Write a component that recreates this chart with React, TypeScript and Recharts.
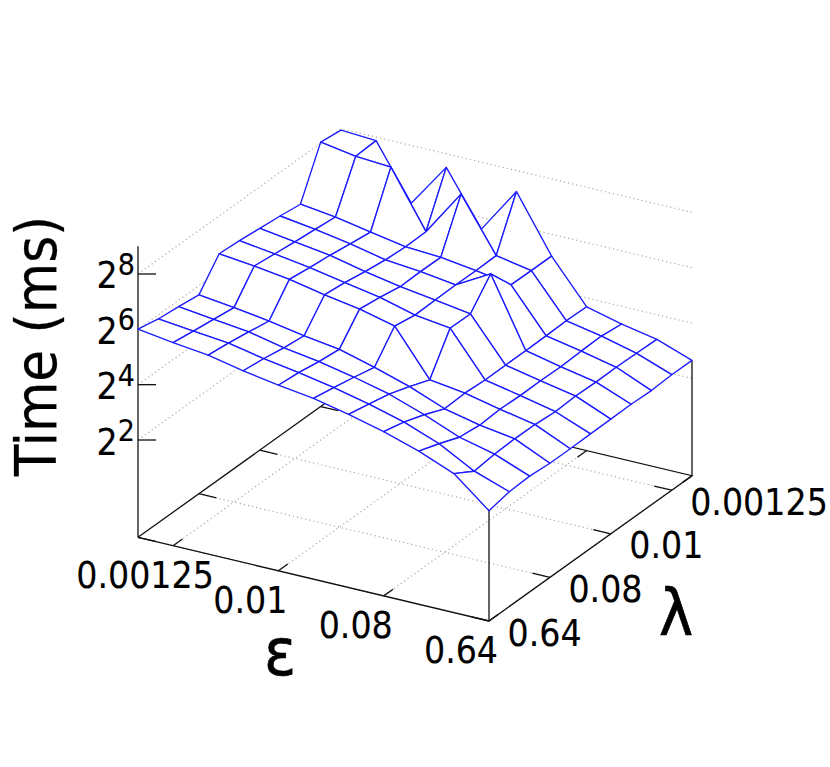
import { ScatterChart, Scatter, XAxis, YAxis } from "recharts"

const WIDTH = 830
const HEIGHT = 767
const FONT = "'DejaVu Sans Condensed', 'DejaVu Sans', sans-serif"

// log2 of time (ms), one row per epsilon step, lambda going 0.64 -> 0.000625
const timeEps0 = [6.01, 5.85, 5.77, 5.67, 6.63, 6.58, 6.50, 6.42, 6.32, 8.04, 7.95]
const timeEps1 = [5.82, 5.71, 5.61, 5.51, 6.49, 6.40, 6.31, 6.24, 6.16, 7.83, 7.87]
const timeEps2 = [5.67, 5.58, 5.46, 5.33, 6.31, 6.21, 6.13, 6.02, 5.92, 7.74, 5.91]
const timeEps3 = [5.41, 5.32, 5.19, 5.10, 6.05, 5.97, 5.84, 5.74, 5.69, 5.71, 7.51]
const timeEps4 = [5.19, 5.12, 4.99, 4.91, 5.84, 5.74, 5.60, 5.62, 5.61, 7.37, 5.58]
const timeEps5 = [5.02, 4.88, 4.73, 4.56, 5.53, 5.40, 5.42, 5.44, 5.43, 5.45, 7.24]
const timeEps6 = [4.74, 4.59, 4.42, 4.17, 3.89, 5.23, 5.22, 6.14, 5.22, 5.21, 5.21]
const timeEps7 = [4.42, 4.24, 3.98, 3.67, 3.71, 3.66, 3.67, 3.67, 3.68, 3.70, 3.68]
const timeEps8 = [4.02, 3.76, 3.47, 3.38, 3.43, 3.40, 3.41, 3.39, 3.43, 3.45, 3.36]
const timeEps9 = [3.51, 3.07, 3.16, 3.19, 3.18, 3.12, 3.16, 3.14, 3.15, 3.13, 3.11]
const timeEps10 = [2.47, 2.63, 2.67, 2.61, 2.61, 2.62, 2.63, 2.64, 2.61, 2.66, 2.65]
const surface = [timeEps0, timeEps1, timeEps2, timeEps3, timeEps4, timeEps5, timeEps6, timeEps7, timeEps8, timeEps9, timeEps10]

const epsilonTicks = ["0.00125", "0.01", "0.08", "0.64"]
const epsilonTickSteps = [1, 4, 7, 10]
const lambdaTicks = ["0.64", "0.08", "0.01", "0.00125"]
const lambdaTickSteps = [0, 3, 6, 9]
const timeTicks = [2, 4, 6, 8]

const Z_MIN = -1.516
const Z_MAX = 9
const LAST = 10

// gnuplot style view: grid step (i, j) and log2 time -> page position
const project = (i: number, j: number, z: number = Z_MIN) => ({
  x: 138 + 35.1 * i + 20.3 * j,
  y: 537.3 + 8.37 * i - 14.53 * j - (z - Z_MIN) * 27.67,
})

const noDot = () => <g />

const pathOf = (points: any[]) =>
  points.map((p, n) => `${n === 0 ? "M" : "L"}${p.x},${p.y}`).join("")

const lineShape = (stroke: string, strokeWidth: number, dash?: string) => (props: any) => (
  <path d={pathOf(props.points)} fill="none" stroke={stroke} strokeWidth={strokeWidth} strokeDasharray={dash} />
)

const cellShape = (props: any) => (
  <path d={pathOf(props.points) + "Z"} fill="#fff" stroke="#1c1cff" strokeWidth={1.35} strokeLinejoin="round" />
)

const dotted = lineShape("#a8a8a8", 1.2, "1.2 3")
const solid = lineShape("#111", 1.3)

const gridLines: any[][] = []
epsilonTickSteps.forEach((i) => gridLines.push([project(i, 0), project(i, LAST)]))
lambdaTickSteps.forEach((j) => gridLines.push([project(0, j), project(LAST, j)]))
timeTicks.forEach((z) => gridLines.push([project(0, 0, z), project(0, LAST, z), project(LAST, LAST, z)]))

const borderLines: any[][] = [
  [project(0, 0), project(LAST, 0), project(LAST, LAST), project(0, LAST), project(0, 0)],
  [project(0, 0), project(0, 0, Z_MAX)],
  [project(LAST, 0), project(LAST, 0, surface[LAST][0])],
  [project(LAST, LAST), project(LAST, LAST, surface[LAST][LAST])],
]
epsilonTickSteps.forEach((i) => {
  borderLines.push([project(i, 0), project(i, 0.46)])
  borderLines.push([project(i, LAST), project(i, LAST - 0.46)])
})
lambdaTickSteps.forEach((j) => {
  borderLines.push([project(0, j), project(0.5, j)])
  borderLines.push([project(LAST, j), project(LAST - 0.5, j)])
})
timeTicks.forEach((z) => {
  const p = project(0, 0, z)
  borderLines.push([p, { x: p.x + 18, y: p.y }])
})

// painted from the back corner to the front one so near cells hide far ones
const cells: any[][] = []
for (let i = 0; i < LAST; i++) {
  for (let j = LAST - 1; j >= 0; j--) {
    cells.push([
      project(i, j, surface[i][j]),
      project(i + 1, j, surface[i + 1][j]),
      project(i + 1, j + 1, surface[i + 1][j + 1]),
      project(i, j + 1, surface[i][j + 1]),
    ])
  }
}

const epsilonLabels = epsilonTicks.map((label, n) => {
  const p = project(epsilonTickSteps[n], 0)
  return { x: p.x - 28, y: p.y + 42, label }
})
const lambdaLabels = lambdaTicks.map((label, n) => {
  const p = project(LAST, lambdaTickSteps[n])
  return { x: p.x + 18.5, y: p.y + 24.5, label }
})
const timeLabels = timeTicks.map((exp) => {
  const p = project(0, 0, exp)
  return { x: 96.5, y: p.y + 14.5, label: String(exp) }
})

const tickLabel = (anchor: string) => (props: any) => (
  <text x={props.cx} y={props.cy} textAnchor={anchor} fontFamily={FONT} fontSize={37} fill="#000" stroke="#000" strokeWidth={0.12}>
    {props.payload.label}
  </text>
)

const powerLabel = (props: any) => (
  <text x={props.cx} y={props.cy} fontFamily={FONT} fontSize={37} fill="#000" stroke="#000" strokeWidth={0.12}>
    2<tspan dy={-13.5} fontSize={30}>{props.payload.label}</tspan>
  </text>
)

const bigLabel = (props: any) => (
  <text
    x={props.cx}
    y={props.cy}
    textAnchor="middle"
    fontFamily={FONT}
    fontSize={props.payload.size}
    fill="#000"
    stroke="#000"
    strokeWidth={props.payload.weight}
    transform={props.payload.turn ? `rotate(-90 ${props.cx} ${props.cy})` : undefined}
  >
    {props.payload.label}
  </text>
)

const axisTitles = [
  { x: 56, y: 346, label: "Time (ms)", size: 57.5, turn: true, weight: 0.25 },
  { x: 280, y: 675, label: "ε", size: 66, turn: false, weight: 0.7 },
  { x: 676, y: 635, label: "λ", size: 64, turn: false, weight: 0.7 },
]

export default function App() {
  return (
    <div style={{ position: "absolute", left: 0, top: 0, width: WIDTH, height: HEIGHT, background: "#fff" }}>
      <ScatterChart width={WIDTH} height={HEIGHT} margin={{ top: 0, right: 0, bottom: 0, left: 0 }}>
        <XAxis type="number" dataKey="x" domain={[0, WIDTH]} hide />
        <YAxis type="number" dataKey="y" domain={[0, HEIGHT]} reversed hide />
        {gridLines.map((pts, n) => (
          <Scatter key={`grid-${n}`} data={pts} line={dotted} shape={noDot} isAnimationActive={false} />
        ))}
        {borderLines.map((pts, n) => (
          <Scatter key={`border-${n}`} data={pts} line={solid} shape={noDot} isAnimationActive={false} />
        ))}
        {cells.map((pts, n) => (
          <Scatter key={`cell-${n}`} data={pts} line={cellShape} shape={noDot} isAnimationActive={false} />
        ))}
        <Scatter data={epsilonLabels} shape={tickLabel("middle")} isAnimationActive={false} />
        <Scatter data={lambdaLabels} shape={tickLabel("start")} isAnimationActive={false} />
        <Scatter data={timeLabels} shape={powerLabel} isAnimationActive={false} />
        <Scatter data={axisTitles} shape={bigLabel} isAnimationActive={false} />
      </ScatterChart>
    </div>
  )
}
